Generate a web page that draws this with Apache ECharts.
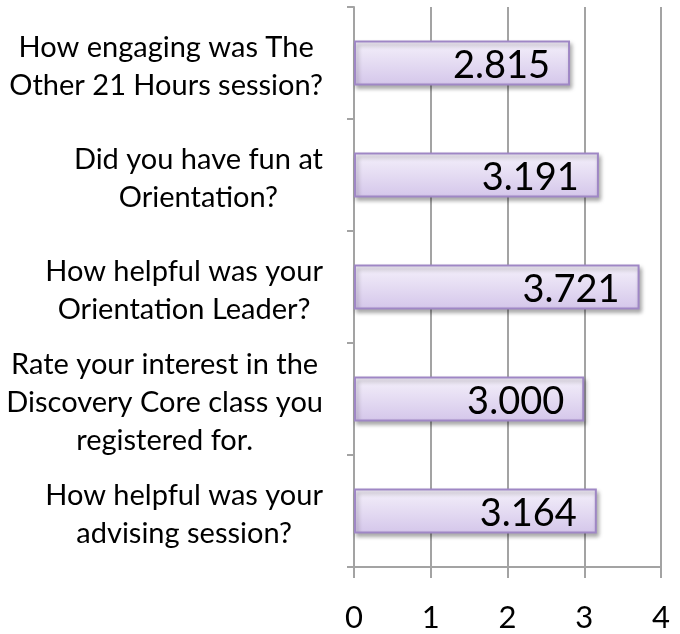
<!DOCTYPE html>
<html>
<head>
<meta charset="utf-8">
<script src="https://cdn.jsdelivr.net/npm/echarts@6/dist/echarts.min.js"></script>
<style>
  html, body { margin: 0; padding: 0; background: #fff; }
  #chart { width: 680px; height: 634px; }
</style>
</head>
<body>
<div id="chart"></div>
<script>
const questions = [
    'How engaging was The\nOther 21 Hours session?',
    'Did you have fun at\nOrientation?',
    'How helpful was your\nOrientation Leader?',
    'Rate your interest in the\nDiscovery Core class you\nregistered for.',
    'How helpful was your\nadvising session?'
];
const scores = [2.815, 3.191, 3.721, 3.000, 3.164];

const chart = echarts.init(document.getElementById('chart'), null, { renderer: 'canvas' });

const grey = '#a3a3a3';

const option = {
    animation: false,
    grid: {
        left: 354,
        right: 19,
        top: 7,
        bottom: 67,
        containLabel: false
    },
    xAxis: {
        type: 'value',
        min: 0,
        max: 4,
        interval: 1,
        axisLine: { show: true, lineStyle: { color: grey, width: 2 } },
        axisTick: { show: true, length: 11, lineStyle: { color: grey, width: 2 } },
        splitLine: { show: true, lineStyle: { color: grey, width: 2 } },
        axisLabel: {
            margin: 35,
            fontSize: 31,
            color: '#000',
            fontFamily: 'Lato'
        }
    },
    yAxis: {
        type: 'category',
        inverse: true,
        data: questions,
        axisLine: { show: true, lineStyle: { color: grey, width: 2 } },
        axisTick: { show: true, length: 7, lineStyle: { color: grey, width: 2 } },
        axisLabel: {
            margin: 31,
            color: '#000',
            fontFamily: 'Lato',
            fontSize: 29,
            lineHeight: 38,
            padding: [8, 0, 0, 0],
            formatter: function (v) {
                return v.split('\n').map(function (s) { return '{c|' + s + '}'; }).join('\n');
            },
            rich: {
                c: {
                    align: 'center',
                    fontFamily: 'Lato',
                    fontSize: 29,
                    lineHeight: 38,
                    color: '#000'
                }
            }
        }
    },
    series: [
        {
            type: 'bar',
            data: scores,
            barWidth: 45,
            itemStyle: {
                color: new echarts.graphic.LinearGradient(0, 0, 0, 1, [
                    { offset: 0, color: '#f5f1fb' },
                    { offset: 1, color: '#d4c6ea' }
                ]),
                borderColor: '#9f87c5',
                borderWidth: 2,
                shadowColor: 'rgba(0,0,0,0.3)',
                shadowBlur: 4,
                shadowOffsetX: 2,
                shadowOffsetY: 3
            },
            label: {
                show: true,
                position: 'insideRight',
                distance: 20,
                offset: [0, 3],
                fontFamily: 'Lato',
                fontSize: 38,
                color: '#000',
                formatter: function (p) { return p.value.toFixed(3); }
            }
        }
    ]
};

chart.setOption(option);
</script>
</body>
</html>
